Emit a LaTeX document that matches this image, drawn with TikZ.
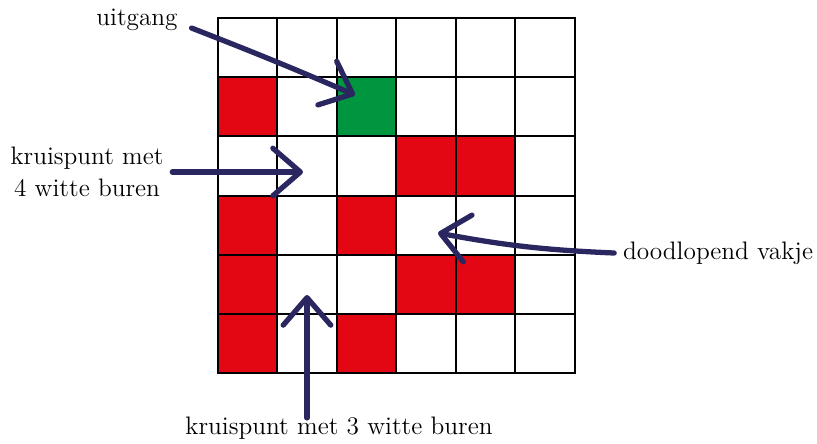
\documentclass[tikz,border=0pt]{standalone}
\usepackage{tikz}
\usetikzlibrary{arrows.meta}
\definecolor{rood}{RGB}{227,6,19}
\definecolor{groen}{RGB}{0,150,64}
\definecolor{inkt}{RGB}{42,38,96}

\begin{document}
\begin{tikzpicture}[x=0.02cm, y=-0.02cm,
    tekst/.style={font=\Large, inner sep=2pt, align=center},
    pijl/.style={inkt, line width=3pt, line cap=round,
        -{Straight Barb[length=0.55cm, width=0.95cm, round]}}]

        % 1. Vaste afmetingen van het plaatje
        \useasboundingbox (0,0) rectangle (817,443);

        % 2. Het doolhof: gekleurde vakjes en het rooster
        \begin{scope}[xshift=4.36cm, yshift=-0.36cm, x=1.19cm, y=-1.184cm]
            \foreach \c/\r in {0/1, 3/2, 4/2, 0/3, 2/3, 0/4, 3/4, 4/4, 0/5, 2/5}
                \fill[rood] (\c,\r) rectangle ++(1,1);
            \fill[groen] (2,1) rectangle ++(1,1); % uitgang
            \foreach \i in {0,...,6} {
                \draw[line width=1.1pt, line cap=rect] (\i,0) -- (\i,6);
                \draw[line width=1.1pt, line cap=rect] (0,\i) -- (6,\i);
            }
        \end{scope}

        % 3. De teksten
        \node[tekst] (uitgang) at (137,20) {uitgang};
        \node[tekst] (kruis4) at (87,172) {kruispunt met\\4 witte buren};
        \node[tekst] (dood) at (718,253) {doodlopend vakje};
        \node[tekst] (kruis3) at (339,428) {kruispunt met 3 witte buren};

        % 4. De pijlen
        \coordinate (uit-punt) at (355,95);
        \coordinate (kruis4-punt) at (303,172);
        \coordinate (dood-punt) at (438,233);
        \coordinate (kruis3-punt) at (307,295);

        \draw[pijl] ([shift={(10,8)}]uitgang.east) to[bend left=1] (uit-punt);
        \draw[pijl] ([xshift=0.1cm]kruis4.east) -- (kruis4-punt);
        \draw[pijl] ([xshift=-0.1cm]dood.west) to[bend left=4] (dood-punt);
        \draw[pijl] ([yshift=-0.1cm]kruis3.north -| kruis3-punt) -- (kruis3-punt);

\end{tikzpicture}
\end{document}
